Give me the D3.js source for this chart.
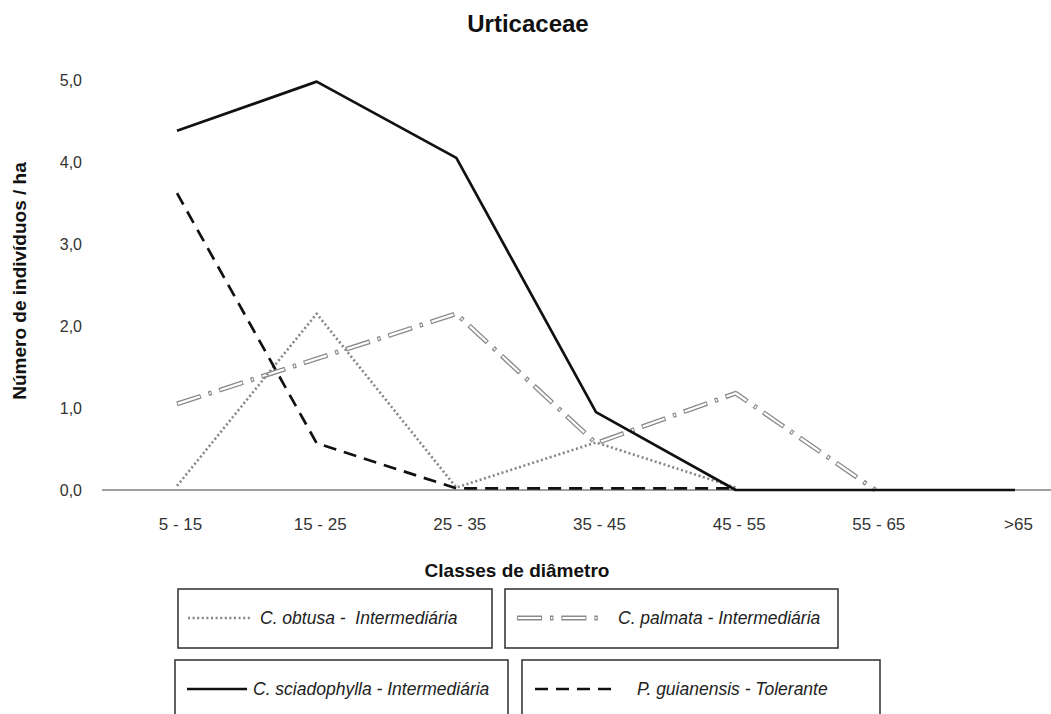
<!DOCTYPE html>
<html>
<head>
<meta charset="utf-8">
<script src="https://cdn.jsdelivr.net/npm/d3@7"></script>
<style>
  html, body { margin: 0; padding: 0; background: #fff; }
  svg { display: block; font-family: "Liberation Sans", Arial, Helvetica, sans-serif; }
</style>
</head>
<body>
<svg id="chart" width="1051" height="714"></svg>
<script>
// ---- data ----
const chartTitle = "Urticaceae";
const yAxisTitle = "Número de indivíduos / ha";
const xAxisTitle = "Classes de diâmetro";
const categories = ["5 - 15", "15 - 25", "25 - 35", "35 - 45", "45 - 55", "55 - 65", ">65"];
const yTicks = [0, 1, 2, 3, 4, 5];
const obtusa = [0.05, 2.15, 0.03, 0.58, 0.03];
const palmata = [1.05, 1.6, 2.15, 0.57, 1.18, 0];
const sciadophylla = [4.38, 4.98, 4.05, 0.95, 0, 0, 0];
const guianensis = [3.62, 0.57, 0.02, 0.02, 0.02];
const seriesNames = [
  "C. obtusa -  Intermediária",
  "C. palmata - Intermediária",
  "C. sciadophylla - Intermediária",
  "P. guianensis - Tolerante"
];

// ---- setup ----
const svg = d3.select("#chart");
const x = d3.scalePoint().domain(categories).range([177, 1015]);
const y = d3.scaleLinear().domain([0, 5]).range([490, 80]);

// title
svg.append("text").attr("x", 528).attr("y", 32).attr("text-anchor", "middle")
  .style("font-weight", "bold").style("font-size", "24px").attr("fill", "#111")
  .text(chartTitle);

// y axis labels
const yAxis = svg.append("g").attr("transform", "translate(86,0)")
  .call(d3.axisLeft(y).tickValues(yTicks).tickSize(0).tickPadding(4)
    .tickFormat(d => d3.format(".1f")(d).replace(".", ",")));
yAxis.select(".domain").remove();
yAxis.selectAll("text").style("font-size", "16px").attr("fill", "#333")
  .style("font-family", "'Liberation Sans', Arial, sans-serif");

// y axis title
svg.append("text").attr("transform", "translate(26,281) rotate(-90)")
  .attr("text-anchor", "middle").style("font-weight", "bold").style("font-size", "19px")
  .attr("fill", "#111").text(yAxisTitle);

// x axis baseline
svg.append("line").attr("x1", 102).attr("x2", 1051).attr("y1", y(0)).attr("y2", y(0))
  .attr("stroke", "#a0a0a0").attr("stroke-width", 2);

// x axis labels
const xAxis = svg.append("g").attr("transform", `translate(0,${y(0)})`)
  .call(d3.axisBottom(x).tickSize(0).tickPadding(28));
xAxis.select(".domain").remove();
xAxis.selectAll("text").style("font-size", "17px").attr("fill", "#333")
  .attr("dx", 3)
  .style("font-family", "'Liberation Sans', Arial, sans-serif");

// x axis title
svg.append("text").attr("x", 517).attr("y", 577).attr("text-anchor", "middle")
  .style("font-weight", "bold").style("font-size", "19px").attr("fill", "#111")
  .text(xAxisTitle);

// ---- lines ----
const line = d3.line().x(d => x(d.c)).y(d => y(d.v));
const toPts = arr => arr.map((v, i) => ({ c: categories[i], v }));

const styles = [
  { data: obtusa, layers: [{ stroke: "#858585", width: 2.6, dash: "2,2.6" }] },
  { data: palmata, layers: [
      { stroke: "#8a8a8a", width: 4.8, dash: "25,8,3.4,8" },
      { stroke: "#ffffff", width: 2.2, dash: "23,10,1.4,10", offset: -1 } ] },
  { data: sciadophylla, layers: [{ stroke: "#111", width: 2.7, dash: null }] },
  { data: guianensis, layers: [{ stroke: "#111", width: 2.7, dash: "13,8" }] }
];

const drawOrder = [1, 0, 3, 2];
drawOrder.forEach(k => {
  const s = styles[k];
  s.layers.forEach(l => {
    svg.append("path").datum(toPts(s.data)).attr("d", line)
      .attr("fill", "none").attr("stroke", l.stroke).attr("stroke-width", l.width)
      .attr("stroke-dasharray", l.dash).attr("stroke-dashoffset", l.offset || 0)
      .attr("stroke-linejoin", "round");
  });
});

// ---- legend ----
const legendBoxes = [
  { x0: 178, x1: 492, y0: 589, y1: 648, lx0: 188, lx1: 250, tx: 260 },
  { x0: 505, x1: 838, y0: 589, y1: 648, lx0: 517, lx1: 602, tx: 618 },
  { x0: 175, x1: 508, y0: 660, y1: 722, lx0: 187, lx1: 247, tx: 253 },
  { x0: 522, x1: 880, y0: 660, y1: 722, lx0: 535, lx1: 614, tx: 637 }
];
const legend = svg.append("g");
legendBoxes.forEach((b, i) => {
  legend.append("rect").attr("x", b.x0).attr("y", b.y0)
    .attr("width", b.x1 - b.x0).attr("height", b.y1 - b.y0)
    .attr("fill", "none").attr("stroke", "#3a3a3a").attr("stroke-width", 1.6);
  const ly = b.y0 + 29;
  styles[i].layers.forEach(l => {
    legend.append("line").attr("x1", b.lx0).attr("x2", b.lx1).attr("y1", ly).attr("y2", ly)
      .attr("stroke", l.stroke).attr("stroke-width", l.width)
      .attr("stroke-dasharray", l.dash).attr("stroke-dashoffset", l.offset || 0);
  });
  legend.append("text").attr("x", b.tx).attr("y", ly + 6)
    .style("font-style", "italic").style("font-size", "17.5px").attr("fill", "#222")
    .attr("xml:space", "preserve").style("white-space", "pre")
    .text(seriesNames[i]);
});
</script>
</body>
</html>
